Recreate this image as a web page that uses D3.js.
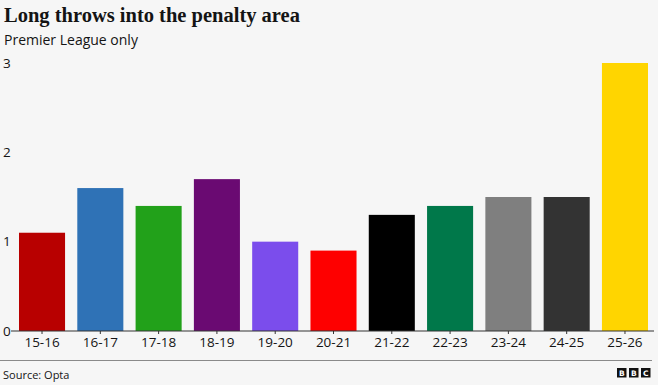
<!DOCTYPE html>
<html>
<head>
<meta charset="utf-8">
<script src="https://cdn.jsdelivr.net/npm/d3@7"></script>
<style>
  html, body { margin: 0; padding: 0; background: #f6f6f6; }
  svg { display: block; }
</style>
</head>
<body>
<script>
const seasons = ["15-16","16-17","17-18","18-19","19-20","20-21","21-22","22-23","23-24","24-25","25-26"];
const values = [1.1, 1.6, 1.4, 1.7, 1.0, 0.9, 1.3, 1.4, 1.5, 1.5, 3.0];
const colors = ["#b80000","#2f72b6","#22a11a","#6a0a72","#7b4dec","#fe0000","#000000","#00784a","#7f7f7f","#333333","#ffd500"];
const yTicks = [0, 1, 2, 3];
const title = "Long throws into the penalty area";
const subtitle = "Premier League only";
const source = "Source: Opta";

const W = 658, H = 385;
const svg = d3.select("body").append("svg").attr("width", W).attr("height", H);
svg.append("rect").attr("width", W).attr("height", H).attr("fill", "#f6f6f6");

svg.append("text").attr("x", 4).attr("y", 22)
  .attr("font-family", "'Liberation Serif', serif").attr("font-weight", "bold")
  .attr("font-size", 20.5).attr("fill", "#141414").text(title);
svg.append("text").attr("x", 4).attr("y", 45)
  .attr("font-family", "'Open Sans', sans-serif")
  .attr("font-size", 14).attr("fill", "#141414").text(subtitle);

const x = d3.scaleBand().domain(seasons).range([19, 648]).paddingInner(0.21).paddingOuter(0);
const y = d3.scaleLinear().domain([0, 3]).range([331, 63]);

svg.append("g").selectAll("rect").data(seasons).join("rect")
  .attr("x", d => x(d))
  .attr("width", x.bandwidth())
  .attr("y", (d, i) => y(values[i]))
  .attr("height", (d, i) => y(0) - y(values[i]))
  .attr("fill", (d, i) => colors[i]);

// x axis
const xAxis = svg.append("g").attr("transform", `translate(0,${y(0)})`)
  .call(d3.axisBottom(x).tickSize(3).tickPadding(3).tickSizeOuter(0));
xAxis.select(".domain").remove();
xAxis.append("line").attr("x1", 11).attr("x2", 654).attr("y1", 0).attr("y2", 0)
  .attr("stroke", "#333").attr("stroke-width", 1);
xAxis.selectAll(".tick line").attr("stroke", "#333");
xAxis.selectAll(".tick text").attr("font-family", "'Open Sans', sans-serif")
  .attr("font-size", 13.5).attr("fill", "#141414");

// y axis labels
const yAxis = svg.append("g").attr("transform", "translate(3,0)")
  .call(d3.axisRight(y).tickValues(yTicks).tickSize(0).tickPadding(0).tickFormat(d3.format("d")));
yAxis.select(".domain").remove();
yAxis.selectAll(".tick text").attr("font-family", "'Open Sans', sans-serif")
  .attr("font-size", 13.5).attr("fill", "#141414").attr("text-anchor", "start");

// footer
svg.append("line").attr("x1", 0).attr("x2", 652).attr("y1", 360.5).attr("y2", 360.5)
  .attr("stroke", "#8a8a8a").attr("stroke-width", 1);
svg.append("text").attr("x", 3).attr("y", 379)
  .attr("font-family", "'Open Sans', sans-serif")
  .attr("font-size", 11).attr("fill", "#141414").text(source);

const logo = svg.append("g");
["B","B","C"].forEach((c, i) => {
  const bx = 617 + i * 12;
  logo.append("rect").attr("x", bx).attr("y", 368).attr("width", 9.5).attr("height", 9.5).attr("fill", "#111");
  logo.append("text").attr("x", bx + 4.75).attr("y", 376).attr("text-anchor", "middle")
    .attr("font-family", "'DejaVu Sans', sans-serif").attr("font-weight", "bold")
    .attr("font-size", 7.5).attr("fill", "#fff").text(c);
});
</script>
</body>
</html>
